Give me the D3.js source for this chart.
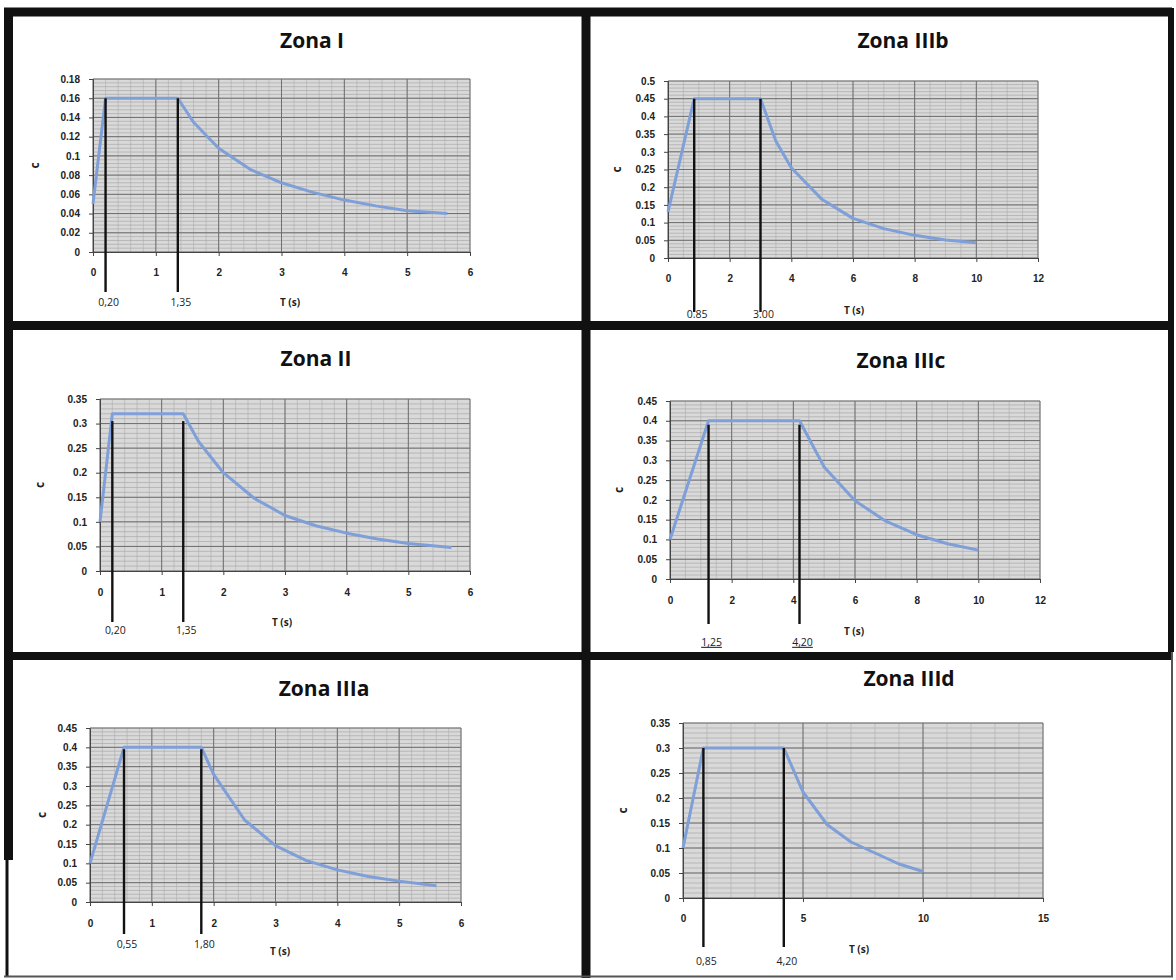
<!DOCTYPE html>
<html>
<head>
<meta charset="utf-8">
<script src="https://cdn.jsdelivr.net/npm/d3@7/dist/d3.min.js"></script>
<style>
  body { margin: 0; background: #fff; }
  svg { display: block; font-family: 'Open Sans', 'Liberation Sans', sans-serif; }
  .tick text { font-size: 10px; font-weight: 700; fill: #222; }
  .title { font-family: 'Liberation Sans Narrow', 'Open Sans', sans-serif; font-size: 21px; font-weight: 700; fill: #111; }
</style>
</head>
<body>
<div id="chart"></div>
<script>
// panel order: left-right, top-bottom
var zoneNames = ["Zona I", "Zona IIIb", "Zona II", "Zona IIIc", "Zona IIIa", "Zona IIId"];

// curves, T (s) vs C
var zonaI_T    = [0, 0.20, 1.35, 1.6, 2.0, 2.5, 3.0, 3.5, 4.0, 4.5, 5.0, 5.64];
var zonaI_C    = [0.05, 0.16, 0.16, 0.135, 0.108, 0.086, 0.072, 0.062, 0.054, 0.048, 0.043, 0.04];
var zonaIIIb_T = [0, 0.85, 3.0, 3.5, 4, 5, 6, 7, 8, 9, 10];
var zonaIIIb_C = [0.13, 0.45, 0.45, 0.33, 0.255, 0.165, 0.112, 0.083, 0.064, 0.051, 0.043];
var zonaII_T   = [0, 0.20, 1.35, 1.6, 2.0, 2.5, 3.0, 3.5, 4.0, 4.5, 5.0, 5.7];
var zonaII_C   = [0.10, 0.32, 0.32, 0.263, 0.20, 0.148, 0.113, 0.092, 0.077, 0.065, 0.056, 0.048];
var zonaIIIc_T = [0, 1.25, 4.2, 5, 6, 7, 8, 9, 10];
var zonaIIIc_C = [0.10, 0.40, 0.40, 0.283, 0.198, 0.146, 0.112, 0.089, 0.073];
var zonaIIIa_T = [0, 0.55, 1.8, 2.0, 2.5, 3.0, 3.5, 4.0, 4.5, 5.0, 5.6];
var zonaIIIa_C = [0.10, 0.40, 0.40, 0.33, 0.212, 0.146, 0.107, 0.083, 0.066, 0.054, 0.042];
var zonaIIId_T = [0, 0.85, 4.2, 5, 6, 7, 8, 9, 10];
var zonaIIId_C = [0.10, 0.30, 0.30, 0.212, 0.147, 0.112, 0.09, 0.068, 0.053];

// period marks drawn as black verticals, and their labels
var markT      = [[0.20, 1.35], [0.85, 3.00], [0.20, 1.35], [1.25, 4.20], [0.55, 1.80], [0.85, 4.20]];
var markLabels = [["0,20", "1,35"], ["0.85", "3.00"], ["0,20", "1,35"], ["1,25", "4,20"], ["0,55", "1,80"], ["0,85", "4,20"]];

// axis ticks
var xTicks = [
  [0, 1, 2, 3, 4, 5, 6],
  [0, 2, 4, 6, 8, 10, 12],
  [0, 1, 2, 3, 4, 5, 6],
  [0, 2, 4, 6, 8, 10, 12],
  [0, 1, 2, 3, 4, 5, 6],
  [0, 5, 10, 15]
];
var yTicks = [
  [0, 0.02, 0.04, 0.06, 0.08, 0.1, 0.12, 0.14, 0.16, 0.18],
  [0, 0.05, 0.1, 0.15, 0.2, 0.25, 0.3, 0.35, 0.4, 0.45, 0.5],
  [0, 0.05, 0.1, 0.15, 0.2, 0.25, 0.3, 0.35],
  [0, 0.05, 0.1, 0.15, 0.2, 0.25, 0.3, 0.35, 0.4, 0.45],
  [0, 0.05, 0.1, 0.15, 0.2, 0.25, 0.3, 0.35, 0.4, 0.45],
  [0, 0.05, 0.1, 0.15, 0.2, 0.25, 0.3, 0.35]
];

var curves = [
  [zonaI_T, zonaI_C], [zonaIIIb_T, zonaIIIb_C], [zonaII_T, zonaII_C],
  [zonaIIIc_T, zonaIIIc_C], [zonaIIIa_T, zonaIIIa_C], [zonaIIId_T, zonaIIId_C]
];

// where each little chart sits on the page
var layout = [
  {left: 93,  right: 470,  top: 79,  bottom: 252, titleX: 312, titleY: 42,  cX: 36,  xTickY: 277, tX: 290, tY: 303, markFrom: 0.16,  markTo: 292, markLabY: 303, xMinor: 0.2, yMinor: 0.004},
  {left: 668, right: 1038, top: 81,  bottom: 258, titleX: 903, titleY: 42,  cX: 618, xTickY: 283, tX: 854, tY: 311, markFrom: 0.45,  markTo: 312, markLabY: 315, xMinor: 0.5, yMinor: 0.01},
  {left: 100, right: 470,  top: 399, bottom: 571, titleX: 316, titleY: 360, cX: 41,  xTickY: 597, tX: 282, tY: 623, markFrom: 0.305, markTo: 622, markLabY: 631, xMinor: 0.2, yMinor: 0.01},
  {left: 670, right: 1040, top: 401, bottom: 579, titleX: 901, titleY: 362, cX: 620, xTickY: 605, tX: 854, tY: 632, markFrom: 0.39,  markTo: 624, markLabY: 643, xMinor: 0.5, yMinor: 0.01, underline: true},
  {left: 90,  right: 461,  top: 728, bottom: 902, titleX: 324, titleY: 690, cX: 43,  xTickY: 928, tX: 280, tY: 952, markFrom: 0.395, markTo: 934, markLabY: 945, xMinor: 0.2, yMinor: 0.01},
  {left: 683, right: 1043, top: 723, bottom: 898, titleX: 909, titleY: 680, cX: 624, xTickY: 923, tX: 859, tY: 950, markFrom: 0.30,  markTo: 947, markLabY: 962, xMinor: 1,   yMinor: 0.01}
];

var W = 1176, H = 980;
var svg = d3.select("#chart").append("svg").attr("width", W).attr("height", H);
svg.append("rect").attr("width", W).attr("height", H).attr("fill", "#fff");

zoneNames.forEach(function(name, i) {
  var L = layout[i];
  var xs = xTicks[i], ys = yTicks[i];
  var x = d3.scaleLinear().domain([0, xs[xs.length - 1]]).range([L.left, L.right]);
  var y = d3.scaleLinear().domain([0, ys[ys.length - 1]]).range([L.bottom, L.top]);
  var g = svg.append("g");

  // plot area + grid
  g.append("rect")
    .attr("x", L.left).attr("y", L.top)
    .attr("width", L.right - L.left).attr("height", L.bottom - L.top)
    .attr("fill", "#d9d9d9");

  var xMin = d3.range(0, x.domain()[1] + 1e-9, L.xMinor);
  var yMin = d3.range(0, y.domain()[1] + 1e-9, L.yMinor);
  g.selectAll(".vminor").data(xMin).enter().append("line")
    .attr("x1", d => x(d)).attr("x2", d => x(d))
    .attr("y1", L.top).attr("y2", L.bottom)
    .attr("stroke", "#b3b3b3").attr("stroke-width", 0.7);
  g.selectAll(".hminor").data(yMin).enter().append("line")
    .attr("x1", L.left).attr("x2", L.right)
    .attr("y1", d => y(d)).attr("y2", d => y(d))
    .attr("stroke", "#a9a9a9").attr("stroke-width", 0.7);
  g.selectAll(".vmajor").data(xs).enter().append("line")
    .attr("x1", d => x(d)).attr("x2", d => x(d))
    .attr("y1", L.top).attr("y2", L.bottom)
    .attr("stroke", "#6f6f6f").attr("stroke-width", 1);
  g.selectAll(".hmajor").data(ys).enter().append("line")
    .attr("x1", L.left).attr("x2", L.right)
    .attr("y1", d => y(d)).attr("y2", d => y(d))
    .attr("stroke", "#6f6f6f").attr("stroke-width", 1);

  // axes
  var ax = g.append("g").attr("transform", "translate(0," + L.bottom + ")")
    .call(d3.axisBottom(x).tickValues(xs).tickSize(4).tickPadding(L.xTickY - L.bottom - 12)
      .tickFormat(d => String(d)));
  var ay = g.append("g").attr("transform", "translate(" + L.left + ",0)")
    .call(d3.axisLeft(y).tickValues(ys).tickSize(4).tickPadding(9)
      .tickFormat(d => String(d)));
  [ax, ay].forEach(function(a) {
    a.select(".domain").attr("stroke", "#444");
    a.selectAll(".tick line").attr("stroke", "#444");
  });

  // curve
  var pts = curves[i][0].map((t, k) => [t, curves[i][1][k]]);
  g.append("path").datum(pts)
    .attr("d", d3.line().x(d => x(d[0])).y(d => y(d[1])))
    .attr("fill", "none").attr("stroke", "#7f9fd8").attr("stroke-width", 3)
    .attr("stroke-linejoin", "round");

  // period marks
  markT[i].forEach(function(t, k) {
    g.append("line")
      .attr("x1", x(t)).attr("x2", x(t))
      .attr("y1", y(L.markFrom)).attr("y2", L.markTo)
      .attr("stroke", "#111").attr("stroke-width", 2.4);
    g.append("text")
      .attr("x", x(t) + 3).attr("y", L.markLabY)
      .attr("text-anchor", "middle").attr("dominant-baseline", "middle")
      .style("font-size", "10.5px").style("fill", "#222")
      .style("text-decoration", L.underline ? "underline" : null)
      .text(markLabels[i][k]);
  });

  // labels
  g.append("text").attr("class", "title")
    .attr("x", L.titleX).attr("y", L.titleY)
    .attr("text-anchor", "middle").attr("dominant-baseline", "middle")
    .text(name);
  g.append("text")
    .attr("transform", "translate(" + L.cX + "," + ((L.top + L.bottom) / 2) + ") rotate(-90)")
    .attr("text-anchor", "middle").attr("dominant-baseline", "middle")
    .style("font-size", "12px").style("font-weight", 700).style("fill", "#222")
    .text("c");
  g.append("text")
    .attr("x", L.tX).attr("y", L.tY)
    .attr("text-anchor", "middle").attr("dominant-baseline", "middle")
    .style("font-size", "10px").style("font-weight", 700).style("fill", "#222")
    .text("T (s)");
});

// panel frames
var frame = svg.append("g").attr("stroke", "#111").attr("fill", "none");
frame.append("line").attr("x1", 4).attr("x2", 1172).attr("y1", 12).attr("y2", 12).attr("stroke-width", 9);
frame.append("line").attr("x1", 4).attr("x2", 1172).attr("y1", 325.5).attr("y2", 325.5).attr("stroke-width", 9);
frame.append("line").attr("x1", 4).attr("x2", 1172).attr("y1", 656).attr("y2", 656).attr("stroke-width", 8);
frame.append("line").attr("x1", 8.5).attr("x2", 8.5).attr("y1", 8).attr("y2", 860).attr("stroke-width", 9);
frame.append("line").attr("x1", 7).attr("x2", 7).attr("y1", 860).attr("y2", 977).attr("stroke-width", 3);
frame.append("line").attr("x1", 586).attr("x2", 586).attr("y1", 8).attr("y2", 978).attr("stroke-width", 9);
frame.append("line").attr("x1", 1171).attr("x2", 1171).attr("y1", 8).attr("y2", 652).attr("stroke-width", 6);
frame.append("line").attr("x1", 1172).attr("x2", 1172).attr("y1", 652).attr("y2", 977).attr("stroke-width", 2).attr("stroke", "#555");
frame.append("line").attr("x1", 4).attr("x2", 1173).attr("y1", 976.5).attr("y2", 976.5).attr("stroke-width", 2).attr("stroke", "#555");
</script>
</body>
</html>
